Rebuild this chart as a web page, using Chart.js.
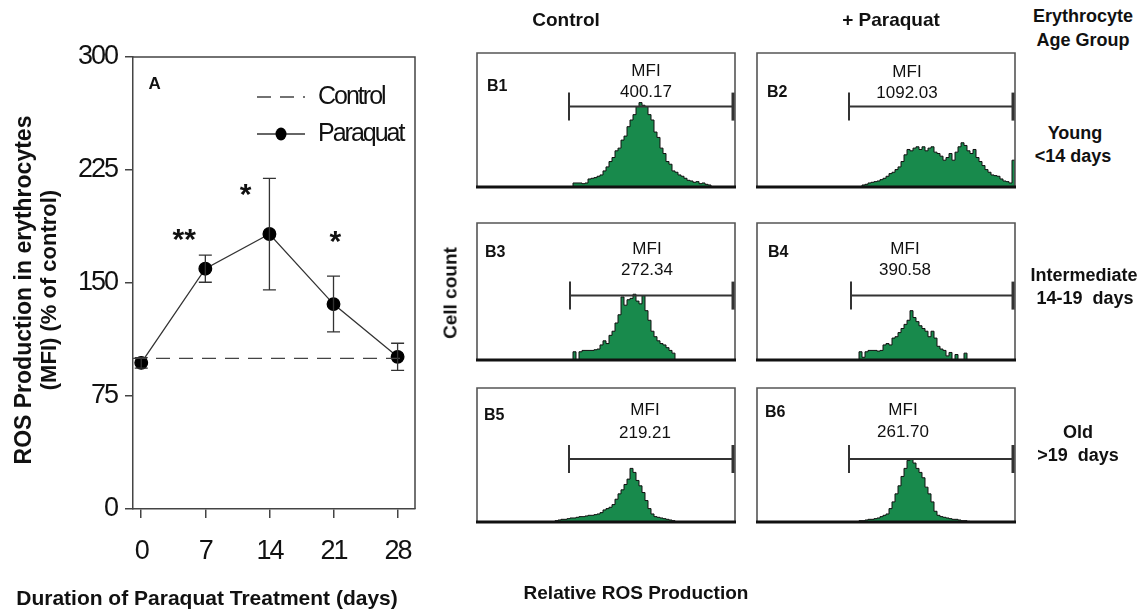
<!DOCTYPE html>
<html><head><meta charset="utf-8">
<script src="https://cdn.jsdelivr.net/npm/chart.js@4.4.1/dist/chart.umd.min.js"></script>
<style>
html,body{margin:0;padding:0;background:#fff;}
body{width:1143px;height:615px;position:relative;overflow:hidden;font-family:"Liberation Sans",Arial,sans-serif;color:#111;}
.t{position:absolute;white-space:pre;transform:translate(-50%,-50%);line-height:1;}
.l{position:absolute;white-space:pre;transform:translate(0,-50%);line-height:1;}
.b{font-weight:bold;}
.r{transform:translate(-50%,-50%) rotate(-90deg);}
canvas{position:absolute;}
</style></head><body>
<script>
// ---------- Panel A data ----------
const DAYS = [0, 7, 14, 21, 28];
const PARAQUAT = [97, 159.5, 182.5, 136, 101];
const PARAQUAT_ERR = [3.5, 9, 37, 18.5, 9];
const CONTROL_DAYS = [-0.9, 28.8];
const CONTROL = [100, 100];
const Y_TICKS = [0, 75, 150, 225, 300];
const SIG_LABELS = ['**', '*', '*'];
const SIG_DAYS = [4.7, 11.4, 21.2];
const SIG_LEVELS = [184, 214, 183];

// ---------- Panel B data (histograms, % of panel height per 3-channel bin) ----------
const PANELS = ['B1', 'B2', 'B3', 'B4', 'B5', 'B6'];
const MFI = ['400.17', '1092.03', '272.34', '390.58', '219.21', '261.70'];
const BIN = 3;
const HIST_START = [96, 105, 96, 102, 78, 102];
const H_B1 = [3,3,3,2.5,3,6,6.5,7,8,9,12,15,19,22,27,29,35,38,45,50,54,60,63,61,60,54,50,41,37,29,25,19,17,12,11,9,8,6.5,5,4.5,3.5,4,2.5,3,2,1.5];
const H_B2 = [1.5,2,3,3.5,4,4.5,5.5,6.5,8,10,11,13,15,19,24,28,27,29,30,28,30,27,29,30,26,25,23,20,22,25,20,26,30,33,31,27,25,28,22,19,16,13,11,9,8.5,8,6,4.5,4,3,20];
const H_B3 = [6,0,6,7,7,7,7,7.5,8,11,14,12,18,21,27,33,46,40,44,45,48,43,41,47,36,29,21,17,14,12,11,9,7,5];
const H_B4 = [6,2,6,7,7,7,6.5,7,11,12,11,16,17,20,23,26,29,36,31,28,25,23,21,17,21,16,10,8,7,3,5.5,0,4,0,0,5];
const H_B5 = [1,1.5,2,2,2.5,3,3,3.5,4,4,4.5,5,5,5.5,6,7,9,10,11,13,17,21,24,28,32,40,37,31,27,22,16,10,6,4,3.5,3,2.5,2,1.5,1];
const H_B6 = [1,1,1.5,2,2,2.5,3,4,5,6,10,15,21,27,34,40,46,47,44,40,37,33,26,21,15,8,5,4,3.5,3,2.5,2,2,1.5,1,1,0.5];
const HISTS = [H_B1, H_B2, H_B3, H_B4, H_B5, H_B6];
const GATE_FROM = [92, 92, 93, 94, 92, 92];
const GATE_TO = [256, 256, 256, 256, 256, 256];
const GATE_LEVEL = [60, 60, 47, 47, 47, 47];

// ---------- Layout / style ----------
const SANS = "'Liberation Sans',Arial,sans-serif";
const GREEN = '#188A4C';
const BOXES = [
  {x:477,y:53,w:258,h:134},{x:757,y:53,w:258,h:134},
  {x:477,y:223,w:258,h:137},{x:757,y:223,w:258,h:137},
  {x:477,y:388,w:258,h:134},{x:757,y:388,w:258,h:134}
];
const PANEL_TEXT = [
  {lx:487,ly:86, mx:646,my:70, vy:91},
  {lx:767,ly:92, mx:907,my:71, vy:92},
  {lx:485,ly:252,mx:647,my:248,vy:269},
  {lx:768,ly:252,mx:905,my:248,vy:269},
  {lx:484,ly:415,mx:645,my:409,vy:432},
  {lx:765,ly:412,mx:903,my:409,vy:431}
];

function txt(s, x, y, cls, size, extra) {
  const d = document.createElement('div');
  d.className = cls; d.textContent = s;
  d.style.left = x + 'px'; d.style.top = y + 'px';
  d.style.fontSize = size + 'px';
  if (extra) Object.assign(d.style, extra);
  document.body.appendChild(d);
  return d;
}
function mkCanvas(x, y, w, h) {
  const c = document.createElement('canvas');
  c.width = w; c.height = h;
  c.style.left = x + 'px'; c.style.top = y + 'px';
  c.style.width = w + 'px'; c.style.height = h + 'px';
  document.body.appendChild(c);
  return c;
}

// ---------- Panel A ----------
const condensed = {
  id: 'condensed',
  beforeDraw(chart) { chart.ctx.letterSpacing = '-2px'; },
  afterDraw(chart) { chart.ctx.letterSpacing = '0px'; }
};
const errorBars = {
  id: 'errorBars',
  afterDatasetsDraw(chart) {
    const {ctx, scales: {x, y}} = chart;
    ctx.save();
    ctx.strokeStyle = '#333'; ctx.lineWidth = 1.3;
    DAYS.forEach((d, i) => {
      const px = x.getPixelForValue(d);
      const top = y.getPixelForValue(PARAQUAT[i] + PARAQUAT_ERR[i]);
      const bot = y.getPixelForValue(PARAQUAT[i] - PARAQUAT_ERR[i]);
      ctx.beginPath();
      ctx.moveTo(px, top); ctx.lineTo(px, bot);
      ctx.moveTo(px - 6.5, top); ctx.lineTo(px + 6.5, top);
      ctx.moveTo(px - 6.5, bot); ctx.lineTo(px + 6.5, bot);
      ctx.stroke();
    });
    ctx.restore();
  }
};
const frameA = {
  id: 'frameA',
  afterDraw(chart) {
    const {ctx, chartArea: a, scales: {x, y}} = chart;
    ctx.save();
    ctx.letterSpacing = '0px';
    ctx.strokeStyle = '#444'; ctx.lineWidth = 1.5;
    ctx.beginPath();
    ctx.moveTo(a.left, a.top); ctx.lineTo(a.right, a.top); ctx.lineTo(a.right, a.bottom);
    ctx.stroke();
    ctx.fillStyle = '#111';
    ctx.font = 'bold 17px ' + SANS;
    ctx.textAlign = 'center'; ctx.textBaseline = 'middle';
    ctx.fillText('A', x.getPixelForValue(1.45), y.getPixelForValue(282));
    ctx.font = 'bold 30px ' + SANS;
    ctx.textBaseline = 'alphabetic';
    SIG_LABELS.forEach((s, i) => {
      ctx.fillText(s, x.getPixelForValue(SIG_DAYS[i]), y.getPixelForValue(SIG_LEVELS[i]) + 0.58 * 30);
    });
    const ds = chart.data.datasets;
    const r1 = a.top + 40, r2 = a.top + 77;
    const lx0 = a.left + 124, lx1 = a.left + 172, tx = a.left + 185;
    ctx.strokeStyle = '#444'; ctx.lineWidth = 1.4;
    ctx.setLineDash([14, 9]);
    ctx.beginPath(); ctx.moveTo(lx0, r1); ctx.lineTo(lx1, r1); ctx.stroke();
    ctx.setLineDash([]);
    ctx.strokeStyle = '#333'; ctx.lineWidth = 1.3;
    ctx.beginPath(); ctx.moveTo(lx0, r2); ctx.lineTo(lx1, r2); ctx.stroke();
    ctx.fillStyle = '#000';
    ctx.beginPath(); ctx.ellipse((lx0 + lx1) / 2, r2, 5.5, 6.5, 0, 0, Math.PI * 2); ctx.fill();
    ctx.fillStyle = '#111';
    ctx.font = '25px ' + SANS;
    ctx.letterSpacing = '-2px';
    ctx.textAlign = 'left'; ctx.textBaseline = 'middle';
    ctx.fillText(ds[0].label, tx, r1);
    ctx.fillText(ds[1].label, tx, r2);
    ctx.restore();
  }
};

const cA = mkCanvas(0, 0, 440, 615);
new Chart(cA, {
  type: 'line',
  data: {
    datasets: [
      {label: 'Control', data: CONTROL_DAYS.map((d, i) => ({x: d, y: CONTROL[i]})),
       borderColor: '#444', borderWidth: 1.4, borderDash: [14, 9], pointRadius: 0, fill: false},
      {label: 'Paraquat', data: DAYS.map((d, i) => ({x: d, y: PARAQUAT[i]})),
       borderColor: '#333', borderWidth: 1.3, pointRadius: 6.3, pointStyle: 'circle',
       pointBackgroundColor: '#000', pointBorderColor: '#000', fill: false}
    ]
  },
  options: {
    responsive: false, animation: false, devicePixelRatio: 1,
    layout: {padding: {left: 60, top: 57, right: 25, bottom: 40}},
    plugins: {legend: {display: false}, tooltip: {enabled: false}},
    scales: {
      x: {
        type: 'linear', min: -0.9, max: 29.9,
        afterBuildTicks: s => { s.ticks = DAYS.map(v => ({value: v})); },
        afterFit: s => { s.height = 66; },
        grid: {drawOnChartArea: false, drawTicks: true, tickLength: 9, color: '#444', lineWidth: 1.5},
        border: {display: true, color: '#444', width: 1.5},
        ticks: {padding: 17, color: '#111', font: {family: SANS, size: 27}, maxRotation: 0, autoSkip: false}
      },
      y: {
        min: 0, max: 300,
        afterBuildTicks: s => { s.ticks = Y_TICKS.map(v => ({value: v})); },
        afterFit: s => { s.width = 73; },
        grid: {drawOnChartArea: false, drawTicks: true, tickLength: 8, color: '#444', lineWidth: 1.5},
        border: {display: true, color: '#444', width: 1.5},
        ticks: {padding: 8, color: '#111', font: {family: SANS, size: 27}, autoSkip: false}
      }
    }
  },
  plugins: [condensed, errorBars, frameA]
});

// ---------- Panel B histograms ----------
const histFrame = {
  id: 'histFrame',
  afterDatasetsDraw(chart, args, opts) {
    const i = opts.index;
    const {ctx, chartArea: a, scales: {x, y}} = chart;
    ctx.save();
    ctx.strokeStyle = '#555'; ctx.lineWidth = 1.6;
    ctx.beginPath();
    ctx.moveTo(a.left, a.bottom); ctx.lineTo(a.left, a.top); ctx.lineTo(a.right, a.top); ctx.lineTo(a.right, a.bottom);
    ctx.stroke();
    ctx.strokeStyle = '#111'; ctx.lineWidth = 3;
    ctx.beginPath(); ctx.moveTo(a.left - 1, a.bottom); ctx.lineTo(a.right + 1, a.bottom); ctx.stroke();
    const gy = y.getPixelForValue(GATE_LEVEL[i]);
    const g0 = x.getPixelForValue(GATE_FROM[i]);
    const g1 = x.getPixelForValue(GATE_TO[i]);
    ctx.strokeStyle = '#333'; ctx.lineWidth = 2;
    ctx.beginPath();
    ctx.moveTo(g0, gy); ctx.lineTo(g1, gy);
    ctx.moveTo(g0, gy - 14); ctx.lineTo(g0, gy + 14);
    ctx.stroke();
    ctx.lineWidth = 3;
    ctx.beginPath(); ctx.moveTo(g1, gy - 14); ctx.lineTo(g1, gy + 14); ctx.stroke();
    ctx.restore();
  }
};

PANELS.forEach((name, i) => {
  const b = BOXES[i], P = 4;
  const c = mkCanvas(b.x - P, b.y - P, b.w + 2 * P, b.h + 2 * P);
  const counts = HISTS[i];
  const start = HIST_START[i];
  const pts = [{x: start, y: 0}];
  counts.forEach((v, k) => pts.push({x: start + k * BIN, y: v}));
  pts.push({x: start + counts.length * BIN, y: 0});
  new Chart(c, {
    type: 'line',
    data: {datasets: [{
      data: pts, stepped: true, fill: 'origin',
      backgroundColor: GREEN, borderColor: '#111', borderWidth: 1, pointRadius: 0
    }]},
    options: {
      responsive: false, animation: false, devicePixelRatio: 1,
      layout: {padding: P},
      plugins: {legend: {display: false}, tooltip: {enabled: false}, histFrame: {index: i}},
      scales: {
        x: {type: 'linear', min: 0, max: 258, display: false},
        y: {min: 0, max: 100, display: false}
      }
    },
    plugins: [histFrame]
  });
  const t = PANEL_TEXT[i];
  txt(name, t.lx, t.ly, 'l b', 16);
  txt('MFI', t.mx, t.my, 't', 17);
  txt(MFI[i], t.mx, t.vy, 't', 17);
});

// ---------- Titles and labels ----------
txt('ROS Production in erythrocytes', 23, 290, 't b r', 23);
txt('(MFI) (% of control)', 49, 290, 't b r', 22);
txt('Duration of Paraquat Treatment (days)', 207, 597, 't b', 21);
txt('Control', 566, 19, 't b', 19);
txt('+ Paraquat', 891, 19, 't b', 19);
txt('Erythrocyte', 1083, 16, 't b', 18);
txt('Age Group', 1083, 40, 't b', 18);
txt('Young', 1075, 133, 't b', 18);
txt('<14 days', 1073, 156, 't b', 18);
txt('Intermediate', 1084, 275, 't b', 18);
txt('14-19  days', 1085, 298, 't b', 18);
txt('Old', 1078, 432, 't b', 18);
txt('>19  days', 1078, 455, 't b', 18);
txt('Cell count', 450, 293, 't b r', 19);
txt('Relative ROS Production', 636, 592, 't b', 19);
</script>
</body></html>
